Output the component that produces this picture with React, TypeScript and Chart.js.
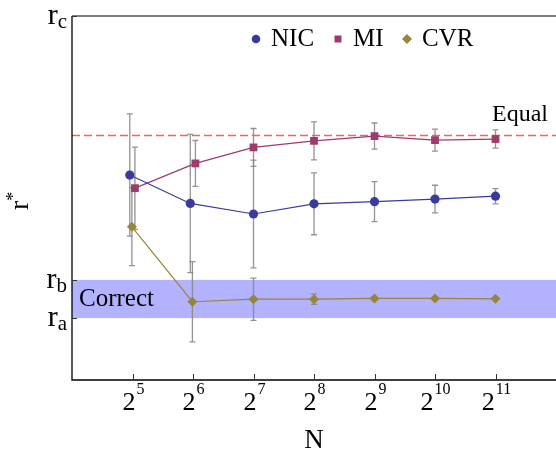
import React, { useEffect, useRef } from 'react';
import { Chart, registerables } from 'chart.js';

Chart.register(...registerables);

// ---------- data ----------
const N_VALUES = [32, 64, 128, 256, 512, 1024, 2048];
const X_TICK_EXPONENTS = [5, 6, 7, 8, 9, 10, 11];
const SERIES_NAMES = ['NIC', 'MI', 'CVR'];
const NIC_MEAN = [56.3, 48.5, 45.6, 48.4, 49.0, 49.7, 50.5];
const NIC_ERR = [16.8, 19.0, 14.8, 8.5, 5.5, 3.8, 2.1];
const MI_MEAN = [52.7, 59.5, 63.9, 65.7, 67.0, 65.9, 66.2];
const MI_ERR = [11.3, 6.3, 5.2, 5.2, 3.6, 3.0, 2.5];
const CVR_MEAN = [42.1, 21.5, 22.2, 22.2, 22.4, 22.4, 22.3];
const CVR_ERR = [10.7, 11.0, 5.8, 1.4, 0.4, 0, 0];
const Y_TICK_VALUES = [17.0, 27.5, 100];
const Y_TICK_SUBSCRIPTS = ['a', 'b', 'c'];
const R_A = 17.0;
const R_B = 27.5;
const EQUAL = 67.2;

// ---------- styles ----------
const SERIF = '"Liberation Serif", "DejaVu Serif", serif';
const COLORS = ['rgb(58,58,158)', 'rgb(158,58,110)', 'rgb(152,132,58)'];
const STYLES = ['circle', 'rect', 'rectRot'];
const RADII = [4.6, 5.5, 5];
const DODGE = [-0.045, 0.04, -0.01];
const BAND_COLOR = 'rgb(178,178,255)';
const ERR_COLOR = 'rgba(135,135,135,0.9)';

function build(mean: number[], err: number[], idx: number) {
  return {
    label: SERIES_NAMES[idx],
    data: N_VALUES.map((n, j) => ({ x: Math.log2(n) + (n <= 64 ? DODGE[idx] : 0), y: mean[j] })),
    errors: err,
    showLine: true,
    borderColor: COLORS[idx],
    backgroundColor: COLORS[idx],
    borderWidth: 1.2,
    pointStyle: STYLES[idx],
    pointRadius: RADII[idx],
    pointBorderWidth: 0,
    pointHoverRadius: RADII[idx],
  };
}

const overlay = {
  id: 'overlay',
  beforeDatasetsDraw(chart: any) {
    const { ctx, chartArea: a, scales } = chart;
    const y = scales.y;
    ctx.save();
    // correct band
    const yb = y.getPixelForValue(R_B);
    const ya = y.getPixelForValue(R_A);
    ctx.fillStyle = BAND_COLOR;
    ctx.fillRect(a.left, yb, a.right - a.left, ya - yb);
    ctx.fillStyle = '#000';
    ctx.font = `25px ${SERIF}`;
    ctx.textAlign = 'left';
    ctx.textBaseline = 'alphabetic';
    ctx.fillText('Correct', a.left + 7, (ya + yb) / 2 + 7);
    // equal line
    const ye = y.getPixelForValue(EQUAL);
    ctx.strokeStyle = 'rgb(255,92,92)';
    ctx.lineWidth = 1.5;
    ctx.setLineDash([8, 4]);
    ctx.beginPath();
    ctx.moveTo(a.left, ye);
    ctx.lineTo(a.right, ye);
    ctx.stroke();
    ctx.setLineDash([]);
    ctx.textAlign = 'right';
    ctx.font = `24px ${SERIF}`;
    ctx.fillText('Equal', a.right - 8, ye - 14);
    // error bars
    ctx.strokeStyle = ERR_COLOR;
    ctx.lineWidth = 1.3;
    chart.data.datasets.forEach((ds: any, i: number) => {
      const meta = chart.getDatasetMeta(i);
      meta.data.forEach((el: any, j: number) => {
        const e = ds.errors[j];
        if (!e) return;
        const m = ds.data[j].y;
        const t = y.getPixelForValue(m + e);
        const b = y.getPixelForValue(m - e);
        ctx.beginPath();
        ctx.moveTo(el.x, t);
        ctx.lineTo(el.x, b);
        ctx.moveTo(el.x - 3, t);
        ctx.lineTo(el.x + 3, t);
        ctx.moveTo(el.x - 3, b);
        ctx.lineTo(el.x + 3, b);
        ctx.stroke();
      });
    });
    ctx.restore();
  },
  afterDraw(chart: any) {
    const { ctx, chartArea: a, scales } = chart;
    const x = scales.x;
    const y = scales.y;
    ctx.save();
    // frame
    ctx.strokeStyle = '#555';
    ctx.lineWidth = 1.5;
    ctx.beginPath();
    ctx.moveTo(a.left, a.top);
    ctx.lineTo(a.right, a.top);
    ctx.stroke();
    ctx.strokeStyle = '#000';
    ctx.lineWidth = 1.3;
    ctx.beginPath();
    ctx.moveTo(a.left, a.top);
    ctx.lineTo(a.left, a.bottom);
    ctx.lineTo(a.right, a.bottom);
    ctx.stroke();
    // x ticks
    ctx.strokeStyle = '#333';
    ctx.lineWidth = 1;
    ctx.fillStyle = '#000';
    ctx.textBaseline = 'alphabetic';
    X_TICK_EXPONENTS.forEach((k) => {
      const px = Math.round(x.getPixelForValue(k)) + 0.5;
      ctx.beginPath();
      ctx.moveTo(px, a.bottom);
      ctx.lineTo(px, a.bottom - 6);
      ctx.stroke();
      ctx.font = `26px ${SERIF}`;
      const wb = ctx.measureText('2').width;
      ctx.font = `16px ${SERIF}`;
      const we = ctx.measureText(String(k)).width;
      const left = px - (wb + we + 1) / 2;
      ctx.textAlign = 'left';
      ctx.font = `26px ${SERIF}`;
      ctx.fillText('2', left, a.bottom + 30);
      ctx.font = `16px ${SERIF}`;
      ctx.fillText(String(k), left + wb + 1, a.bottom + 14);
    });
    // y ticks
    Y_TICK_VALUES.forEach((v, i) => {
      const py = Math.round(y.getPixelForValue(v)) + 0.5;
      ctx.beginPath();
      ctx.moveTo(a.left, py);
      ctx.lineTo(a.left + 5, py);
      ctx.stroke();
      ctx.font = `21px ${SERIF}`;
      const ws = ctx.measureText(Y_TICK_SUBSCRIPTS[i]).width;
      ctx.font = `30px ${SERIF}`;
      const wr = ctx.measureText('r').width;
      const right = a.left - 5;
      ctx.textAlign = 'left';
      ctx.fillText('r', right - ws - wr, py + 7);
      ctx.font = `21px ${SERIF}`;
      ctx.fillText(Y_TICK_SUBSCRIPTS[i], right - ws, py + 11);
    });
    // axis titles
    ctx.font = `27px ${SERIF}`;
    ctx.textAlign = 'center';
    ctx.fillText('N', (a.left + a.right) / 2, a.bottom + 68);
    ctx.save();
    ctx.translate(28, 210);
    ctx.rotate(-Math.PI / 2);
    ctx.textAlign = 'left';
    ctx.font = `28px ${SERIF}`;
    const wr = ctx.measureText('r').width;
    ctx.fillText('r', 0, 0);
    ctx.font = `18px ${SERIF}`;
    ctx.fillText('*', wr, -9);
    ctx.restore();
    // legend
    const lx = [256, 338, 407];
    const ly = a.top + 23;
    ctx.font = `25px ${SERIF}`;
    ctx.textAlign = 'left';
    SERIES_NAMES.forEach((name, i) => {
      ctx.fillStyle = COLORS[i];
      ctx.beginPath();
      if (i === 0) {
        ctx.arc(lx[i], ly, 4.3, 0, Math.PI * 2);
      } else if (i === 1) {
        ctx.rect(lx[i] - 3.5, ly - 3.5, 7, 7);
      } else {
        ctx.moveTo(lx[i] - 5, ly);
        ctx.lineTo(lx[i], ly - 5);
        ctx.lineTo(lx[i] + 5, ly);
        ctx.lineTo(lx[i], ly + 5);
        ctx.closePath();
      }
      ctx.fill();
      ctx.fillStyle = '#000';
      ctx.fillText(name, lx[i] + 15, ly + 7);
    });
    ctx.restore();
  },
};

export default function App() {
  const ref = useRef<HTMLCanvasElement>(null);
  useEffect(() => {
    document.body.style.margin = '0';
    const chart = new Chart(ref.current as HTMLCanvasElement, {
      type: 'scatter',
      data: {
        datasets: [
          build(NIC_MEAN, NIC_ERR, 0),
          build(MI_MEAN, MI_ERR, 1),
          build(CVR_MEAN, CVR_ERR, 2),
        ] as any,
      },
      options: {
        animation: false,
        responsive: false,
        devicePixelRatio: 1,
        layout: { autoPadding: false, padding: { left: 72, right: 0, top: 16, bottom: 70 } },
        plugins: { legend: { display: false }, tooltip: { enabled: false } },
        scales: {
          x: { type: 'linear', min: 4, max: 12, display: false },
          y: { type: 'linear', min: 0, max: 100, display: false },
        },
      } as any,
      plugins: [overlay],
    });
    return () => chart.destroy();
  }, []);
  return (
    <div style={{ position: 'absolute', left: 0, top: 0, width: 556, height: 450, background: '#fff' }}>
      <canvas ref={ref} width={556} height={450} />
    </div>
  );
}
